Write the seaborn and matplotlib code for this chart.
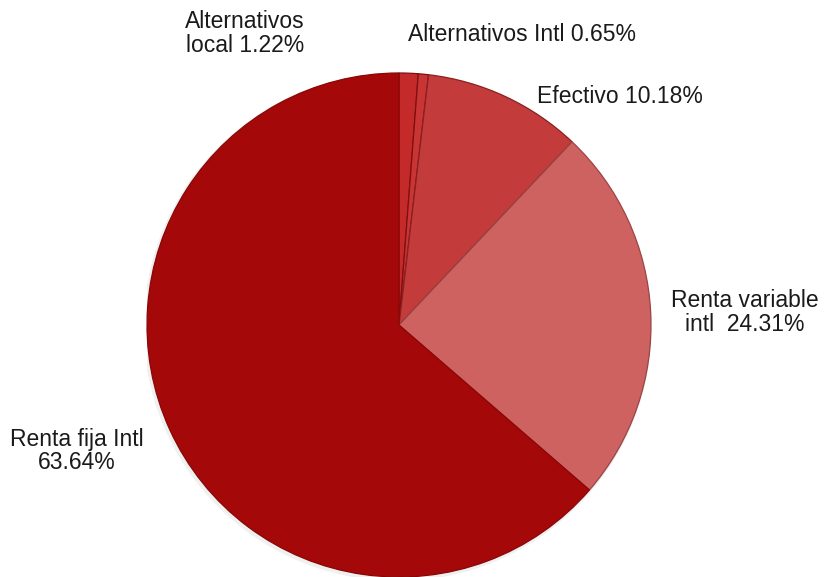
import matplotlib
matplotlib.use("Agg")
import matplotlib.pyplot as plt
import seaborn as sns

# Portfolio allocation, clockwise from 12 o'clock
categories = ["Alternativos\nlocal", "Alternativos Intl", "Efectivo",
              "Renta variable\nintl ", "Renta fija Intl\n"]
shares = [1.22, 0.65, 10.18, 24.31, 63.64]
slice_colors = ["#C42A2A", "#C93434", "#C33B3B", "#CD6260", "#A50808"]
edge_colors = ["#7E1010", "#7E1010", "#8A2020", "#9A4545", "#8A0606"]

sns.set_theme(style="white")
plt.rcParams["font.family"] = ["Liberation Sans", "DejaVu Sans"]

fig = plt.figure(figsize=(8.26, 5.77), dpi=100)
ax = fig.add_axes([147 / 826, 0.0, 504 / 826, 504 / 577])
ax.set_aspect("equal")
ax.axis("off")

# soft drop shadow behind the disc
shadow = plt.Circle((-0.006, -0.008), 1.008, color="#000000", alpha=0.06, lw=0)
ax.add_patch(shadow)

wedges, _ = ax.pie(shares, colors=slice_colors, startangle=90, counterclock=False,
                   radius=1.0, wedgeprops=dict(linewidth=0.9))
for w, ec in zip(wedges, edge_colors):
    w.set_edgecolor(ec)

ax.set_xlim(-1.0, 1.0)
ax.set_ylim(-1.0, 1.0)

label_pos = [(-0.611, 1.155), (0.488, 1.151), (0.877, 0.905),
             (1.373, 0.048), (-1.278, -0.50)]
for name, val, (lx, ly) in zip(categories, shares, label_pos):
    sep = "" if name.endswith("\n") else " "
    ax.text(lx, ly, f"{name}{sep}{val:.2f}%", ha="center", va="center",
            fontsize=16.5, color="#1a1a1a", linespacing=1.05)

fig.savefig("out.png", dpi=100)
